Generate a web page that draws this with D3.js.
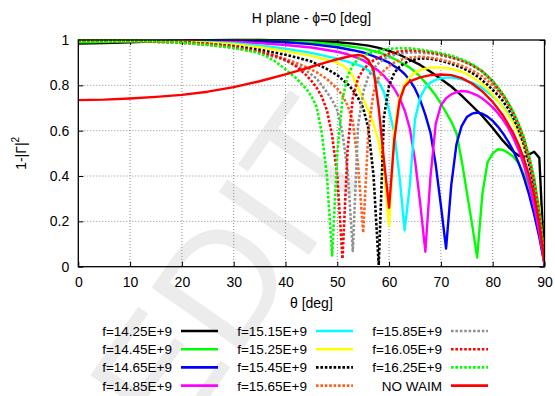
<!DOCTYPE html>
<html>
<head>
<meta charset="utf-8">
<script src="https://cdn.jsdelivr.net/npm/d3@7"></script>
<style>
  body { margin: 0; background: #fff; }
  svg { display: block; font-family: "Liberation Sans", Arial, sans-serif; }
</style>
</head>
<body>
<svg id="chart" width="555" height="396"></svg>
<script>
// ---- data (theta [deg], 1-|G|^2) ----
const xTicks = [0, 10, 20, 30, 40, 50, 60, 70, 80, 90];
const yTicks = [0, 0.2, 0.4, 0.6, 0.8, 1];
const yTickLabels = ["0", "0.2", "0.4", "0.6", "0.8", "1"];

const f1425 = [[0,0.984],[5,0.986],[10,0.99],[15,0.994],[20,0.997],[25,0.999],[30,1],[35,1],[40,0.998],[45,0.995],[50,0.99],[53,0.984],[56,0.975],[58,0.965],[60,0.952],[62,0.935],[64,0.913],[66,0.89],[68,0.86],[70,0.828],[72,0.795],[74,0.755],[76,0.71],[78,0.665],[80,0.612],[82,0.555],[83,0.53],[84,0.507],[85,0.49],[86,0.484],[87,0.495],[88,0.507],[89,0.48],[90,0]];
const f1445 = [[0,0.99],[10,0.993],[20,0.997],[30,0.999],[40,0.996],[45,0.99],[50,0.98],[55,0.963],[58,0.945],[60,0.928],[62,0.905],[64,0.878],[65,0.86],[66,0.838],[67,0.812],[68,0.785],[69,0.755],[70,0.72],[71,0.68],[72,0.64],[73,0.59],[74,0.47],[75,0.33],[76,0.19],[77,0.04],[78,0.32],[79,0.46],[80,0.5],[81,0.518],[82,0.515],[83,0.502],[84,0.485],[85,0.455],[86,0.41],[87,0.355],[88,0.28],[89,0.17],[90,0.01]];
const f1465 = [[0,0.996],[10,0.997],[20,0.998],[30,0.997],[40,0.99],[45,0.982],[50,0.968],[53,0.955],[55,0.945],[58,0.92],[60,0.9],[62,0.87],[63,0.85],[64,0.822],[65,0.785],[66,0.735],[67,0.67],[68,0.59],[69,0.45],[70,0.27],[71,0.08],[72,0.36],[73,0.54],[74,0.62],[75,0.66],[76,0.675],[77,0.68],[78,0.675],[79,0.662],[80,0.643],[81,0.618],[82,0.588],[83,0.552],[84,0.51],[85,0.458],[86,0.395],[87,0.32],[88,0.23],[89,0.13],[90,0.01]];
const f1485 = [[0,0.997],[10,0.998],[20,0.997],[30,0.992],[35,0.986],[40,0.978],[45,0.967],[50,0.948],[52,0.937],[54,0.92],[55,0.91],[56,0.897],[57,0.88],[58,0.863],[59,0.842],[60,0.815],[61,0.785],[62,0.745],[63,0.69],[64,0.61],[65,0.47],[66,0.28],[67,0.066],[68,0.4],[69,0.63],[70,0.712],[71,0.743],[72,0.76],[73,0.77],[74,0.775],[75,0.773],[76,0.766],[77,0.756],[78,0.742],[79,0.724],[80,0.703],[81,0.678],[82,0.648],[83,0.612],[84,0.568],[85,0.515],[86,0.45],[87,0.37],[88,0.27],[89,0.15],[90,0.01]];
const f1515 = [[0,0.998],[10,0.998],[20,0.996],[30,0.986],[35,0.976],[40,0.962],[45,0.943],[50,0.918],[52,0.905],[54,0.89],[55,0.88],[56,0.866],[57,0.845],[58,0.815],[59,0.77],[60,0.69],[61,0.59],[62,0.4],[63,0.16],[64,0.36],[65,0.65],[66,0.745],[67,0.79],[68,0.812],[69,0.824],[70,0.831],[71,0.834],[72,0.834],[73,0.831],[74,0.826],[75,0.82],[76,0.812],[77,0.8],[78,0.787],[79,0.77],[80,0.752],[81,0.73],[82,0.705],[83,0.675],[84,0.64],[85,0.592],[86,0.53],[87,0.455],[88,0.36],[89,0.22],[90,0.02]];
const f1525 = [[0,0.997],[10,0.997],[20,0.994],[30,0.981],[35,0.968],[40,0.951],[45,0.93],[48,0.913],[50,0.9],[51,0.888],[52,0.87],[53,0.84],[54,0.79],[55,0.74],[56,0.69],[57,0.63],[58,0.55],[59,0.42],[60,0.18],[61,0.6],[62,0.745],[63,0.805],[64,0.838],[65,0.856],[66,0.867],[67,0.874],[68,0.878],[69,0.879],[70,0.878],[71,0.876],[72,0.872],[73,0.867],[74,0.86],[75,0.85],[76,0.837],[77,0.822],[78,0.805],[79,0.783],[80,0.758],[81,0.732],[82,0.702],[83,0.668],[84,0.632],[85,0.59],[86,0.53],[87,0.46],[88,0.38],[89,0.26],[90,0.02]];
const f1545 = [[0,0.997],[10,0.996],[20,0.99],[25,0.983],[30,0.973],[35,0.957],[40,0.935],[43,0.918],[45,0.905],[48,0.872],[50,0.845],[52,0.805],[53,0.78],[54,0.745],[55,0.7],[56,0.61],[57,0.4],[58,0.007],[59,0.66],[60,0.8],[61,0.855],[62,0.882],[63,0.898],[64,0.908],[65,0.914],[66,0.918],[67,0.919],[68,0.917],[69,0.913],[70,0.908],[71,0.902],[72,0.895],[73,0.887],[74,0.878],[75,0.867],[76,0.855],[77,0.84],[78,0.822],[79,0.802],[80,0.78],[81,0.757],[82,0.73],[83,0.697],[84,0.657],[85,0.605],[86,0.54],[87,0.455],[88,0.35],[89,0.21],[90,0.02]];
const f1565 = [[0,0.996],[10,0.995],[20,0.987],[25,0.978],[30,0.966],[35,0.946],[38,0.93],[40,0.916],[42,0.9],[44,0.88],[46,0.858],[48,0.828],[50,0.785],[51,0.755],[52,0.71],[53,0.64],[54,0.45],[55,0.15],[56,0.6],[57,0.77],[58,0.835],[59,0.865],[60,0.885],[61,0.9],[62,0.91],[63,0.918],[64,0.922],[65,0.925],[66,0.926],[67,0.925],[68,0.922],[69,0.918],[70,0.913],[72,0.902],[74,0.887],[76,0.867],[78,0.84],[80,0.8],[82,0.75],[83,0.72],[84,0.68],[85,0.63],[86,0.57],[87,0.48],[88,0.37],[89,0.23],[90,0.02]];
const f1585 = [[0,0.997],[10,0.996],[20,0.989],[25,0.98],[30,0.968],[35,0.945],[38,0.925],[40,0.91],[42,0.89],[44,0.865],[46,0.83],[47,0.8],[48,0.77],[49,0.735],[50,0.69],[51,0.59],[52,0.42],[53,0.07],[54,0.62],[55,0.77],[56,0.84],[57,0.875],[58,0.898],[59,0.915],[60,0.927],[62,0.94],[64,0.945],[66,0.944],[68,0.94],[70,0.932],[72,0.922],[74,0.908],[76,0.888],[78,0.86],[80,0.815],[82,0.755],[83,0.72],[84,0.675],[85,0.625],[86,0.56],[87,0.48],[88,0.38],[89,0.23],[90,0.02]];
const f1605 = [[0,0.998],[10,0.997],[20,0.991],[25,0.983],[30,0.97],[35,0.948],[38,0.93],[40,0.912],[42,0.885],[44,0.845],[45,0.82],[46,0.79],[47,0.75],[48,0.69],[49,0.58],[50,0.4],[51,0.035],[52,0.52],[53,0.745],[54,0.83],[55,0.87],[56,0.893],[57,0.91],[58,0.922],[60,0.94],[62,0.95],[64,0.954],[66,0.952],[68,0.946],[70,0.937],[72,0.925],[74,0.91],[76,0.89],[78,0.862],[80,0.818],[82,0.758],[83,0.72],[84,0.675],[85,0.625],[86,0.562],[87,0.482],[88,0.382],[89,0.235],[90,0.02]];
const f1625 = [[0,0.998],[10,0.997],[15,0.994],[20,0.988],[25,0.978],[30,0.965],[34,0.947],[36,0.932],[38,0.906],[40,0.87],[42,0.832],[43,0.81],[44,0.785],[45,0.752],[46,0.705],[47,0.59],[48,0.4],[49,0.05],[50,0.5],[51,0.74],[52,0.84],[53,0.89],[54,0.915],[55,0.93],[56,0.94],[58,0.953],[60,0.961],[62,0.964],[64,0.963],[66,0.958],[68,0.95],[70,0.942],[72,0.931],[74,0.915],[76,0.894],[78,0.862],[80,0.82],[82,0.762],[83,0.725],[84,0.682],[85,0.63],[86,0.572],[87,0.492],[88,0.392],[89,0.24],[90,0.02]];
const noWaim = [[0,0.735],[5,0.737],[10,0.742],[15,0.749],[20,0.758],[25,0.772],[30,0.792],[35,0.818],[40,0.848],[43,0.868],[45,0.882],[48,0.902],[50,0.915],[52,0.926],[53,0.931],[54,0.934],[55,0.93],[56,0.912],[57,0.868],[58,0.7],[59,0.47],[60,0.26],[61,0.56],[62,0.73],[63,0.795],[64,0.818],[66,0.835],[68,0.845],[70,0.848],[72,0.845],[74,0.832],[76,0.808],[78,0.773],[80,0.727],[82,0.667],[84,0.588],[85,0.538],[86,0.478],[87,0.405],[88,0.315],[89,0.19],[90,0.02]];

const seriesNames = ["f=14.25E+9", "f=14.45E+9", "f=14.65E+9", "f=14.85E+9",
                     "f=15.15E+9", "f=15.25E+9", "f=15.45E+9", "f=15.65E+9",
                     "f=15.85E+9", "f=16.05E+9", "f=16.25E+9", "NO WAIM"];
const seriesValues = [f1425, f1445, f1465, f1485, f1515, f1525, f1545, f1565, f1585, f1605, f1625, noWaim];

// styles
const seriesColors = ["#000000", "#00ff00", "#0000ff", "#ff00ff", "#00ffff", "#ffff00",
                      "#000000", "#ff6020", "#909090", "#ff0000", "#00ff00", "#ff0000"];
const seriesDotted = [false, false, false, false, false, false, true, true, true, true, true, false];

const plot = { left: 78.3, right: 544.5, top: 40, bottom: 266.7 };

const svg = d3.select("#chart");

// faint watermark behind everything
svg.append("text")
    .attr("transform", "translate(173,449) rotate(-55)")
    .attr("font-size", 160)
    .attr("fill", "#ececec")
    .text("EDIT");

const x = d3.scaleLinear().domain([0, 90]).range([plot.left, plot.right]);
const y = d3.scaleLinear().domain([0, 1]).range([plot.bottom, plot.top]);

// grid
const grid = svg.append("g")
    .attr("stroke", "#8c8c8c")
    .attr("stroke-width", 1)
    .attr("stroke-dasharray", "1,2");
grid.selectAll("line.gx")
    .data(xTicks.slice(1, -1))
    .join("line")
    .attr("class", "gx")
    .attr("x1", d => x(d)).attr("x2", d => x(d))
    .attr("y1", plot.top).attr("y2", plot.bottom);
grid.selectAll("line.gy")
    .data(yTicks.slice(1, -1))
    .join("line")
    .attr("class", "gy")
    .attr("x1", plot.left).attr("x2", plot.right)
    .attr("y1", d => y(d)).attr("y2", d => y(d));

// axes, ticks pointing inward
const xAxisB = d3.axisBottom(x).tickValues(xTicks).tickSize(-5).tickPadding(10).tickFormat(d3.format("d"));
const xAxisT = d3.axisTop(x).tickValues(xTicks).tickSize(-5).tickFormat("");
const yAxisL = d3.axisLeft(y).tickValues(yTicks).tickSize(-5).tickPadding(9)
    .tickFormat((d, i) => yTickLabels[i]);
const yAxisR = d3.axisRight(y).tickValues(yTicks).tickSize(-5).tickFormat("");

function styleAxis(g) {
    g.select(".domain").remove();
    g.selectAll(".tick line").attr("stroke", "#000");
    g.selectAll(".tick text")
        .attr("font-family", "Liberation Sans, Arial, sans-serif")
        .attr("font-size", 14)
        .attr("fill", "#000");
}
svg.append("g").attr("transform", `translate(0,${plot.bottom})`).call(xAxisB).call(styleAxis);
svg.append("g").attr("transform", `translate(0,${plot.top})`).call(xAxisT).call(styleAxis);
svg.append("g").attr("transform", `translate(${plot.left},0)`).call(yAxisL).call(styleAxis);
svg.append("g").attr("transform", `translate(${plot.right},0)`).call(yAxisR).call(styleAxis);

// curves
svg.append("defs").append("clipPath").attr("id", "clip")
    .append("rect")
    .attr("x", plot.left).attr("y", plot.top - 3)
    .attr("width", plot.right - plot.left).attr("height", plot.bottom - plot.top + 3);

const line = d3.line().x(d => x(d[0])).y(d => y(d[1]));

svg.append("g").attr("clip-path", "url(#clip)")
    .selectAll("path")
    .data(seriesValues)
    .join("path")
    .attr("d", d => line(d))
    .attr("fill", "none")
    .attr("stroke", (d, i) => seriesColors[i])
    .attr("stroke-width", (d, i) => seriesDotted[i] ? 2.6 : 2.4)
    .attr("stroke-dasharray", (d, i) => seriesDotted[i] ? "2.6,1.8" : null)
    .attr("stroke-linejoin", "round");

// border
svg.append("rect")
    .attr("x", plot.left).attr("y", plot.top)
    .attr("width", plot.right - plot.left).attr("height", plot.bottom - plot.top)
    .attr("fill", "none").attr("stroke", "#000").attr("stroke-width", 1.3);

// titles
svg.append("text")
    .attr("x", (plot.left + plot.right) / 2).attr("y", 23)
    .attr("text-anchor", "middle").attr("font-size", 14)
    .text("H plane - \u03d5=0 [deg]");

svg.append("text")
    .attr("x", (plot.left + plot.right) / 2).attr("y", 308)
    .attr("text-anchor", "middle").attr("font-size", 14)
    .text("\u03b8 [deg]");

const yl = svg.append("text")
    .attr("transform", `translate(26,${(plot.top + plot.bottom) / 2}) rotate(-90)`)
    .attr("text-anchor", "middle").attr("font-size", 14);
yl.append("tspan").text("1-|\u0393|");
yl.append("tspan").attr("font-size", 10).attr("dy", -7).text("2");

// legend, 3 columns x 4 rows
const legend = svg.append("g").attr("font-size", 13.5);
seriesNames.forEach((name, i) => {
    const col = Math.floor(i / 4), row = i % 4;
    const tx = 172 + col * 135, ty = 331 + row * 18.2;
    legend.append("text")
        .attr("x", tx).attr("y", ty + 5)
        .attr("text-anchor", "end")
        .text(name);
    legend.append("line")
        .attr("x1", tx + 9).attr("x2", tx + 46)
        .attr("y1", ty).attr("y2", ty)
        .attr("stroke", seriesColors[i])
        .attr("stroke-width", 2.6)
        .attr("stroke-dasharray", seriesDotted[i] ? "2.6,1.8" : null);
});
</script>
</body>
</html>
